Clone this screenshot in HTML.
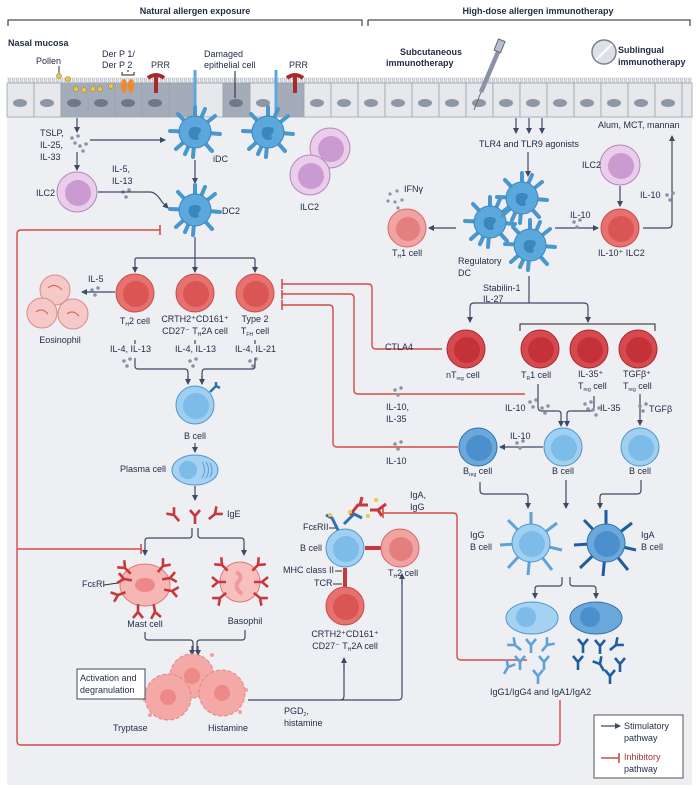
<!DOCTYPE html>
<html><head><meta charset="utf-8"><style>
html,body{margin:0;padding:0;background:#fff}
svg{display:block}
text{font-family:"Liberation Sans",sans-serif;font-size:9px;fill:#1f2a44}
.b{font-weight:bold}
.c{text-anchor:middle}
.s{stroke:#3d4a63;stroke-width:1.2;fill:none}
.r{stroke:#d24b4b;stroke-width:1.4;fill:none}
.sub{font-size:5px}
</style></head><body>
<svg width="700" height="790" viewBox="0 0 700 790" xmlns="http://www.w3.org/2000/svg">
<defs>
<marker id="a" markerWidth="6" markerHeight="6" refX="5" refY="3" orient="auto" markerUnits="userSpaceOnUse"><path d="M0,0 L6,3 L0,6 z" fill="#3d4a63"/></marker>
<pattern id="mv" width="4" height="5" patternUnits="userSpaceOnUse"><path d="M0.5,5 V1.5 a1,1 0 0 1 2,0 V5" fill="#e6e8eb" stroke="#9aa3ad" stroke-width="0.5"/></pattern>
<g id="dc">
 <g stroke="#4a97cf" stroke-width="4" stroke-linecap="round">
 <line x1="0" y1="0" x2="0" y2="-25"/><line x1="0" y1="0" x2="20" y2="-16"/><line x1="0" y1="0" x2="25" y2="2"/><line x1="0" y1="0" x2="17" y2="19"/><line x1="0" y1="0" x2="-2" y2="25"/><line x1="0" y1="0" x2="-19" y2="17"/><line x1="0" y1="0" x2="-25" y2="-1"/><line x1="0" y1="0" x2="-17" y2="-18"/>
 <line x1="0" y1="0" x2="10" y2="-23"/><line x1="0" y1="0" x2="-10" y2="22"/></g>
 <circle r="16" fill="#5aa8dc" stroke="#3b86bd"/>
 <path d="M-6,4 q-2,-9 6,-9 q8,0 5,6 q-3,2 -1,6 q-6,3 -10,-3z" fill="#3b86bd"/>
</g>
<g id="rc"><circle r="19" fill="#e6716e" stroke="#c94a4a"/><circle cx="1" cy="1" r="13" fill="#d95654"/></g>
<g id="rp"><circle r="19" fill="#f0a3a3" stroke="#d66"/><circle cx="1" cy="1" r="12" fill="#e47f7f"/></g>
<g id="tr"><circle r="19" fill="#d64a4f" stroke="#a8262d"/><circle cx="1" cy="1" r="13" fill="#c53138"/></g>
<g id="bc"><circle r="19" fill="#9fd0f2" stroke="#4f95cc"/><circle cx="1" cy="1" r="13" fill="#7dbbe8"/></g>
<g id="bd"><circle r="19" fill="#6aa8db" stroke="#2f72b0"/><circle cx="1" cy="1" r="13" fill="#4b8fcc"/></g>
<g id="pu"><circle r="20" fill="#e9cdea" stroke="#b287bb"/><circle cx="1" cy="1" r="13" fill="#c99bd0"/></g>
<g id="y"><path d="M0,8 V0 L-5,-6 M0,0 L5,-6" stroke="#c7383c" stroke-width="2.6" fill="none"/></g>
<g id="yb"><path d="M0,8 V0 L-5,-6 M0,0 L5,-6" stroke="#5ea2d8" stroke-width="2.6" fill="none"/></g>
<g id="yd"><path d="M0,8 V0 L-5,-6 M0,0 L5,-6" stroke="#1f5d9e" stroke-width="2.6" fill="none"/></g>
<g id="dots" fill="#8a93a6"><circle cx="0" cy="0" r="1.8"/><circle cx="6" cy="-2" r="1.8"/><circle cx="3" cy="5" r="1.8"/></g>
</defs>

<rect x="7" y="77" width="685" height="708" fill="#eeeff3"/>
<text x="195" y="14" class="b c">Natural allergen exposure</text>
<path d="M8,26 V20 H362 V26" stroke="#222" fill="none"/>
<text x="538" y="14" class="b c">High-dose allergen immunotherapy</text>
<path d="M368,26 V20 H690 V26" stroke="#222" fill="none"/>
<text x="8" y="46" class="b">Nasal mucosa</text>

<rect x="7" y="78" width="685" height="6" fill="url(#mv)"/>
<g stroke="#9aa3ad" stroke-width="0.8">
<rect x="7" y="83" width="27" height="34" fill="#e6e8eb"/><rect x="34" y="83" width="27" height="34" fill="#e6e8eb"/>
<rect x="61" y="83" width="27" height="34" fill="#a4acb9"/><rect x="88" y="83" width="27" height="34" fill="#a4acb9"/>
<rect x="115" y="83" width="27" height="34" fill="#a4acb9"/><rect x="142" y="83" width="27" height="34" fill="#a4acb9"/>
<rect x="169" y="83" width="27" height="34" fill="#a4acb9"/><rect x="196" y="83" width="27" height="34" fill="#e6e8eb"/>
<rect x="223" y="83" width="27" height="34" fill="#a4acb9"/><rect x="250" y="83" width="27" height="34" fill="#e6e8eb"/>
<rect x="277" y="83" width="27" height="34" fill="#a4acb9"/><rect x="304" y="83" width="27" height="34" fill="#e6e8eb"/>
<rect x="331" y="83" width="27" height="34" fill="#e6e8eb"/><rect x="358" y="83" width="27" height="34" fill="#e6e8eb"/>
<rect x="385" y="83" width="27" height="34" fill="#e6e8eb"/><rect x="412" y="83" width="27" height="34" fill="#e6e8eb"/>
<rect x="439" y="83" width="27" height="34" fill="#e6e8eb"/><rect x="466" y="83" width="27" height="34" fill="#e6e8eb"/>
<rect x="493" y="83" width="27" height="34" fill="#e6e8eb"/><rect x="520" y="83" width="27" height="34" fill="#e6e8eb"/>
<rect x="547" y="83" width="27" height="34" fill="#e6e8eb"/><rect x="574" y="83" width="27" height="34" fill="#e6e8eb"/>
<rect x="601" y="83" width="27" height="34" fill="#e6e8eb"/><rect x="628" y="83" width="27" height="34" fill="#e6e8eb"/>
<rect x="655" y="83" width="27" height="34" fill="#e6e8eb"/><rect x="682" y="83" width="10" height="34" fill="#e6e8eb"/>
</g>
<g fill="#8e97a5">
<ellipse cx="20" cy="103" rx="7" ry="4"/><ellipse cx="47" cy="103" rx="7" ry="4"/><ellipse cx="74" cy="103" rx="7" ry="4" fill="#6e7888"/><ellipse cx="101" cy="103" rx="7" ry="4" fill="#6e7888"/><ellipse cx="128" cy="103" rx="7" ry="4" fill="#6e7888"/><ellipse cx="155" cy="103" rx="7" ry="4" fill="#6e7888"/><ellipse cx="236" cy="103" rx="7" ry="4" fill="#6e7888"/><ellipse cx="263" cy="103" rx="7" ry="4"/><ellipse cx="317" cy="103" rx="7" ry="4"/><ellipse cx="344" cy="103" rx="7" ry="4"/><ellipse cx="371" cy="103" rx="7" ry="4"/><ellipse cx="398" cy="103" rx="7" ry="4"/><ellipse cx="425" cy="103" rx="7" ry="4"/><ellipse cx="452" cy="103" rx="7" ry="4"/><ellipse cx="479" cy="103" rx="7" ry="4"/><ellipse cx="506" cy="103" rx="7" ry="4"/><ellipse cx="533" cy="103" rx="7" ry="4"/><ellipse cx="560" cy="103" rx="7" ry="4"/><ellipse cx="587" cy="103" rx="7" ry="4"/><ellipse cx="614" cy="103" rx="7" ry="4"/><ellipse cx="641" cy="103" rx="7" ry="4"/><ellipse cx="668" cy="103" rx="7" ry="4"/>
</g>
<text x="36" y="64">Pollen</text>
<line x1="59" y1="66" x2="59" y2="74" stroke="#333"/>
<g fill="#e8c84a" stroke="#a8892a" stroke-width="0.6"><circle cx="59" cy="76" r="2.5"/><circle cx="68" cy="79" r="2.5"/><circle cx="76" cy="89" r="2.5"/><circle cx="84" cy="90" r="2.5"/><circle cx="93" cy="89" r="2.5"/><circle cx="100" cy="89" r="2.5"/><circle cx="111" cy="86" r="2.5"/></g>
<text x="102" y="57">Der P 1/</text><text x="102" y="68">Der P 2</text>
<path d="M122,72 V75 H134 V72 M128,70 V72" stroke="#222" fill="none"/>
<ellipse cx="124" cy="86" rx="3" ry="7" fill="#f08a2a"/><ellipse cx="131" cy="86" rx="3" ry="7" fill="#f08a2a"/>
<text x="151" y="68">PRR</text><text x="289" y="68">PRR</text>
<path d="M148,78 q8,-6 16,0 M156,76 V93" stroke="#a82a2a" stroke-width="4" fill="none"/>
<path d="M287,78 q8,-6 16,0 M295,76 V93" stroke="#a82a2a" stroke-width="4" fill="none"/>
<text x="204" y="57">Damaged</text><text x="204" y="68">epithelial cell</text>
<line x1="235" y1="71" x2="235" y2="98" stroke="#222"/>
<line x1="195" y1="70" x2="195" y2="115" stroke="#5aa8dc" stroke-width="3"/>
<line x1="276" y1="70" x2="276" y2="115" stroke="#5aa8dc" stroke-width="3"/>
<use href="#dc" x="195" y="132"/><use href="#dc" x="268" y="132"/>
<text x="213" y="162">iDC</text>
<use href="#pu" x="330" y="148"/><use href="#pu" x="310" y="175"/>
<text x="300" y="210">ILC2</text>
<text x="40" y="136">TSLP,</text><text x="40" y="148">IL-25,</text><text x="40" y="160">IL-33</text>
<use href="#dots" x="72" y="138"/><use href="#dots" x="80" y="146"/>
<line x1="77" y1="118" x2="77" y2="132" class="s" marker-end="url(#a)"/>
<line x1="90" y1="140" x2="165" y2="140" class="s" marker-end="url(#a)"/>
<line x1="77" y1="152" x2="77" y2="170" class="s" marker-end="url(#a)"/>
<use href="#pu" x="77" y="192"/>
<text x="36" y="196">ILC2</text>
<text x="112" y="172">IL-5,</text><text x="112" y="184">IL-13</text>
<use href="#dots" x="123" y="192"/>
<path d="M98,192 H150 q6,0 12,10 L168,208" class="s" marker-end="url(#a)"/>
<line x1="195" y1="160" x2="195" y2="183" class="s" marker-end="url(#a)"/>
<use href="#dc" x="195" y="210"/>
<text x="222" y="214">DC2</text>
<path d="M195,237 V258 M135,270 V260 q0,-2 2,-2 H253 q2,0 2,2 V270 M195,258 V270" class="s"/>
<line x1="135" y1="266" x2="135" y2="272" class="s" marker-end="url(#a)"/>
<line x1="195" y1="266" x2="195" y2="272" class="s" marker-end="url(#a)"/>
<line x1="255" y1="266" x2="255" y2="272" class="s" marker-end="url(#a)"/>
<use href="#rc" x="135" y="293"/><use href="#rc" x="195" y="293"/><use href="#rc" x="255" y="293"/>
<text x="135" y="324" class="c">T<tspan class="sub" dy="2">H</tspan><tspan dy="-2">2 cell</tspan></text>
<text x="195" y="322" class="c">CRTH2⁺CD161⁺</text><text x="195" y="334" class="c">CD27⁻ T<tspan class="sub" dy="2">H</tspan><tspan dy="-2">2A cell</tspan></text>
<text x="255" y="322" class="c">Type 2</text><text x="255" y="334" class="c">T<tspan class="sub" dy="2">FH</tspan><tspan dy="-2"> cell</tspan></text>
<text x="110" y="352">IL-4, IL-13</text><text x="175" y="352">IL-4, IL-13</text><text x="235" y="352">IL-4, IL-21</text>
<use href="#dots" x="124" y="361"/><use href="#dots" x="190" y="361"/><use href="#dots" x="250" y="361"/>
<path d="M135,340 V344 M195,340 V344 M255,340 V344" class="s"/>
<path d="M135,358 V366 q0,3 3,3 H185 q3,0 3,4 V380 M255,358 V366 q0,3 -3,3 H205 q-3,0 -3,4 V380" class="s"/>
<line x1="188" y1="376" x2="188" y2="384" class="s" marker-end="url(#a)"/><line x1="202" y1="376" x2="202" y2="384" class="s" marker-end="url(#a)"/>
<path d="M115,292 H82" class="s" marker-end="url(#a)"/>
<text x="88" y="282">IL-5</text><use href="#dots" x="92" y="290"/>
<g fill="#f6c9c9" stroke="#d88"><circle cx="55" cy="290" r="15"/><circle cx="42" cy="313" r="15"/><circle cx="73" cy="314" r="15"/></g>
<g stroke="#c65" fill="none"><path d="M48,288 q7,-6 14,2"/><path d="M36,312 q6,-5 12,2"/><path d="M67,314 q6,-5 12,2"/></g>
<text x="60" y="343" class="c">Eosinophil</text>
<use href="#bc" x="195" y="405"/>
<path d="M210,392 l6,-6 M216,386 l4,2 M216,386 l0,-4" stroke="#2f72b0" stroke-width="2.5"/>
<text x="195" y="439" class="c">B cell</text>
<line x1="195" y1="443" x2="195" y2="452" class="s" marker-end="url(#a)"/>
<text x="120" y="472">Plasma cell</text>
<ellipse cx="195" cy="470" rx="23" ry="15" fill="#a5d2f2" stroke="#4f95cc"/><circle cx="188" cy="470" r="9" fill="#7dbbe8"/>
<path d="M202,462 q5,8 0,16 M206,462 q5,8 0,16 M210,463 q4,7 0,14" stroke="#5b9fd4" fill="none"/>
<line x1="195" y1="486" x2="195" y2="500" class="s" marker-end="url(#a)"/>
<use href="#y" x="174" y="515" transform="rotate(-40 174 515)"/><use href="#y" x="195" y="516"/><use href="#y" x="215" y="514" transform="rotate(50 215 514)"/>
<text x="227" y="517">IgE</text>
<path d="M192,528 V535 q0,3 -3,3 H148 q-3,0 -3,3 V552 M198,528 V535 q0,3 3,3 H241 q3,0 3,3 V552" class="s"/>
<line x1="145" y1="548" x2="145" y2="555" class="s" marker-end="url(#a)"/><line x1="244" y1="548" x2="244" y2="555" class="s" marker-end="url(#a)"/>
<ellipse cx="145" cy="585" rx="25" ry="21" fill="#f6b6b4" stroke="#d77"/>
<ellipse cx="145" cy="585" rx="10" ry="7" fill="#e88"/>
<g><use href="#y" x="125" y="568" transform="rotate(-45 125 568)"/><use href="#y" x="163" y="566" transform="rotate(40 163 566)"/><use href="#y" x="118" y="595" transform="rotate(-110 118 595)"/><use href="#y" x="172" y="591" transform="rotate(100 172 591)"/><use href="#y" x="138" y="612" transform="rotate(180 138 612)"/><use href="#y" x="155" y="612" transform="rotate(170 155 612)"/><use href="#y" x="170" y="578" transform="rotate(80 170 578)"/><use href="#y" x="124" y="579" transform="rotate(-80 124 579)"/></g>
<text x="82" y="587">FcεRI</text><line x1="104" y1="585" x2="118" y2="583" stroke="#333"/>
<text x="145" y="627" class="c">Mast cell</text>
<circle cx="240" cy="582" r="20" fill="#f7c0be" stroke="#d77"/>
<path d="M236,572 q8,4 2,10 q-4,6 4,12" stroke="#e99" stroke-width="4" fill="none"/>
<use href="#y" x="222" y="565" transform="rotate(-45 222 565)"/><use href="#y" x="258" y="565" transform="rotate(45 258 565)"/><use href="#y" x="220" y="598" transform="rotate(-130 220 598)"/><use href="#y" x="260" y="598" transform="rotate(130 260 598)"/><use href="#y" x="218" y="582" transform="rotate(-90 218 582)"/><use href="#y" x="262" y="582" transform="rotate(90 262 582)"/>
<text x="245" y="624" class="c">Basophil</text>
<path d="M145,632 V637 q0,3 3,3 H190 q3,0 3,3 V650 M245,630 V637 q0,3 -3,3 H200 q-3,0 -3,3 V650" class="s"/>
<line x1="192" y1="646" x2="192" y2="655" class="s" marker-end="url(#a)"/><line x1="198" y1="646" x2="198" y2="655" class="s" marker-end="url(#a)"/>
<g fill="#f5a9a7" stroke="#e48585" stroke-dasharray="4 2"><circle cx="192" cy="676" r="22"/><circle cx="168" cy="697" r="23"/><circle cx="222" cy="693" r="23"/></g>
<g fill="#ec8a89"><circle cx="192" cy="676" r="8"/><circle cx="168" cy="697" r="8"/><circle cx="222" cy="693" r="8"/></g>
<g fill="#f0a0a0"><circle cx="145" cy="700" r="2"/><circle cx="150" cy="715" r="2"/><circle cx="212" cy="655" r="2"/><circle cx="246" cy="690" r="2"/><circle cx="240" cy="712" r="2"/></g>
<rect x="77" y="669" width="68" height="30" fill="#fff" stroke="#3d4a63"/>
<text x="80" y="681">Activation and</text><text x="80" y="693">degranulation</text>
<text x="113" y="731">Tryptase</text><text x="208" y="731">Histamine</text>
<path d="M248,700 H340 q4,0 4,-4 V665 M270,700 H398 q4,0 4,-4 V580" class="s"/>
<line x1="344" y1="668" x2="344" y2="658" class="s" marker-end="url(#a)"/><line x1="402" y1="584" x2="402" y2="574" class="s" marker-end="url(#a)"/>
<text x="284" y="714">PGD<tspan class="sub" dy="2">2</tspan><tspan dy="-2">,</tspan></text><text x="284" y="726">histamine</text>
<use href="#bc" x="345" y="548"/>
<text x="300" y="551">B cell</text>
<text x="303" y="530">FcεRII</text><line x1="329" y1="528" x2="337" y2="528" stroke="#333"/>
<path d="M338,530 l-6,-12 l-6,-3 M344,524 l10,-10 l8,4" stroke="#2f72b0" stroke-width="3" fill="none"/>
<path d="M350,515 l8,-10 l10,0 M360,505 l2,-8 M370,510 l8,0 l8,-6 M378,510 l4,6" stroke="#c7383c" stroke-width="3" fill="none"/>
<g fill="#e8c84a"><circle cx="330" cy="515" r="2"/><circle cx="350" cy="512" r="2"/><circle cx="368" cy="516" r="2"/><circle cx="376" cy="500" r="2"/></g>
<path d="M365,548 H385" stroke="#c7383c" stroke-width="4"/>
<use href="#rp" x="400" y="548"/>
<text x="388" y="576">T<tspan class="sub" dy="2">H</tspan><tspan dy="-2">2 cell</tspan></text>
<path d="M345,568 V588" stroke="#c7383c" stroke-width="4"/>
<text x="283" y="573">MHC class II</text><line x1="335" y1="571" x2="342" y2="571" stroke="#333"/>
<text x="314" y="586">TCR</text><line x1="333" y1="584" x2="342" y2="584" stroke="#333"/>
<use href="#rc" x="345" y="606"/>
<text x="345" y="637" class="c">CRTH2⁺CD161⁺</text><text x="345" y="649" class="c">CD27⁻ T<tspan class="sub" dy="2">H</tspan><tspan dy="-2">2A cell</tspan></text>
<text x="410" y="498">IgA,</text><text x="410" y="510">IgG</text>
<path d="M383,513 H453 q4,0 4,4 V656 q0,4 4,4 H527" class="r"/><line x1="383" y1="508" x2="383" y2="518" stroke="#d24b4b" stroke-width="1.6"/>
<path d="M160,230 H21 q-4,0 -4,4 V741 q0,4 4,4 H556 q4,0 4,-4 V700" class="r"/>
<line x1="160" y1="225" x2="160" y2="235" stroke="#d24b4b" stroke-width="1.6"/>
<path d="M17,549 H141" class="r"/><line x1="141" y1="544" x2="141" y2="554" stroke="#d24b4b" stroke-width="1.6"/>
<path d="M282,284 H368 q4,0 4,4 V345 q0,4 4,4 H442" class="r"/>
<path d="M282,294 H350 q4,0 4,4 V390 q0,4 4,4 H525" class="r"/>
<path d="M282,305 H329 q4,0 4,4 V443 q0,4 4,4 H458" class="r"/>
<g stroke="#d24b4b" stroke-width="1.6"><line x1="282" y1="279" x2="282" y2="289"/><line x1="282" y1="290" x2="282" y2="299"/><line x1="282" y1="300" x2="282" y2="310"/></g>
<text x="385" y="350">CTLA4</text>
<use href="#dots" x="395" y="390"/><text x="386" y="410">IL-10,</text><text x="386" y="422">IL-35</text>
<use href="#dots" x="395" y="444"/><text x="386" y="464">IL-10</text>
<text x="400" y="55" class="b">Subcutaneous</text><text x="386" y="66" class="b">immunotherapy</text>
<path d="M481,92 L498,52" stroke="#8a93a6" stroke-width="4.5"/><path d="M481,92 L474,110" stroke="#666"/>
<rect x="496" y="40" width="7" height="12" fill="#b8c0cc" stroke="#666" transform="rotate(22 500 46)"/>
<circle cx="604" cy="52" r="12" fill="#dde1e6" stroke="#7a8290" stroke-width="1.5"/><line x1="596" y1="60" x2="612" y2="44" stroke="#fff" stroke-width="2"/>
<text x="618" y="53" class="b">Sublingual</text><text x="618" y="65" class="b">immunotherapy</text>
<line x1="516" y1="118" x2="516" y2="133" class="s" marker-end="url(#a)"/><line x1="529" y1="118" x2="529" y2="133" class="s" marker-end="url(#a)"/><line x1="542" y1="118" x2="542" y2="133" class="s" marker-end="url(#a)"/>
<text x="479" y="147">TLR4 and TLR9 agonists</text>
<line x1="528" y1="152" x2="528" y2="176" class="s" marker-end="url(#a)"/>
<text x="598" y="128">Alum, MCT, mannan</text>
<path d="M643,228 H668 q4,0 4,-4 V136" class="s" marker-end="url(#a)"/>
<text x="640" y="198">IL-10</text><use href="#dots" x="667" y="195"/>
<use href="#pu" x="620" y="165"/><text x="582" y="168">ILC2</text>
<line x1="620" y1="186" x2="620" y2="206" class="s" marker-end="url(#a)"/>
<use href="#rc" x="620" y="228"/><text x="598" y="256">IL-10⁺ ILC2</text>
<use href="#dc" x="490" y="222"/><use href="#dc" x="522" y="198"/><use href="#dc" x="530" y="245"/>
<text x="458" y="264">Regulatory</text><text x="458" y="276">DC</text>
<line x1="555" y1="228" x2="598" y2="228" class="s" marker-end="url(#a)"/>
<text x="570" y="218">IL-10</text><use href="#dots" x="574" y="222"/>
<line x1="456" y1="228" x2="429" y2="228" class="s" marker-end="url(#a)"/>
<use href="#rp" x="407" y="228"/>
<text x="392" y="256">T<tspan class="sub" dy="2">H</tspan><tspan dy="-2">1 cell</tspan></text>
<text x="404" y="192">IFNγ</text><g fill="#8a93a6"><circle cx="390" cy="194" r="1.6"/><circle cx="397" cy="191" r="1.6"/><circle cx="388" cy="201" r="1.6"/><circle cx="395" cy="202" r="1.6"/><circle cx="402" cy="200" r="1.6"/><circle cx="398" cy="208" r="1.6"/></g>
<text x="483" y="291">Stabilin-1</text><text x="483" y="302">IL-27</text>
<path d="M529,276 V303 M470,320 V307 q0,-4 4,-4 H584 q4,0 4,4 V318" class="s"/>
<line x1="470" y1="318" x2="470" y2="322" class="s" marker-end="url(#a)"/><line x1="588" y1="316" x2="588" y2="322" class="s" marker-end="url(#a)"/>
<path d="M520,331 V324 H655 V331" stroke="#222" fill="none"/>
<use href="#tr" x="466" y="349"/><use href="#tr" x="540" y="349"/><use href="#tr" x="589" y="349"/><use href="#tr" x="638" y="349"/>
<text x="446" y="378">nT<tspan class="sub" dy="2">reg</tspan><tspan dy="-2"> cell</tspan></text>
<text x="521" y="378">T<tspan class="sub" dy="2">R</tspan><tspan dy="-2">1 cell</tspan></text>
<text x="578" y="377">IL-35⁺</text><text x="578" y="389">T<tspan class="sub" dy="2">reg</tspan><tspan dy="-2"> cell</tspan></text>
<text x="623" y="377">TGFβ⁺</text><text x="623" y="389">T<tspan class="sub" dy="2">reg</tspan><tspan dy="-2"> cell</tspan></text>
<path d="M538,384 V407 q0,4 4,4 H558 q3,0 3,3 V425 M594,396 V407 q0,4 -4,4 H570 q-3,0 -3,3 V425" class="s"/>
<line x1="561" y1="421" x2="561" y2="426" class="s" marker-end="url(#a)"/><line x1="567" y1="421" x2="567" y2="426" class="s" marker-end="url(#a)"/>
<line x1="640" y1="394" x2="640" y2="425" class="s" marker-end="url(#a)"/>
<text x="505" y="411">IL-10</text><use href="#dots" x="530" y="402"/><use href="#dots" x="542" y="408"/>
<text x="600" y="411">IL-35</text><use href="#dots" x="585" y="404"/><use href="#dots" x="593" y="410"/>
<text x="649" y="412">TGFβ</text><use href="#dots" x="640" y="406"/>
<use href="#bd" x="478" y="447"/><use href="#bc" x="563" y="447"/><use href="#bc" x="640" y="447"/>
<line x1="543" y1="447" x2="500" y2="447" class="s" marker-end="url(#a)"/>
<text x="510" y="439">IL-10</text><use href="#dots" x="517" y="443"/>
<text x="463" y="474">B<tspan class="sub" dy="2">reg</tspan><tspan dy="-2"> cell</tspan></text>
<text x="563" y="474" class="c">B cell</text><text x="640" y="474" class="c">B cell</text>
<path d="M480,482 V490 q0,4 4,4 H525 q3,0 3,3 V505 M566,480 V505 M641,480 V490 q0,4 -4,4 H603 q-3,0 -3,3 V505" class="s"/>
<line x1="528" y1="501" x2="528" y2="508" class="s" marker-end="url(#a)"/><line x1="566" y1="501" x2="566" y2="508" class="s" marker-end="url(#a)"/><line x1="600" y1="501" x2="600" y2="508" class="s" marker-end="url(#a)"/>
<g stroke="#5ea2d8" stroke-width="3" fill="none"><path d="M531,543 V512 M531,543 L557,523 M531,543 L562,550 M531,543 L552,570 M531,543 L528,575 M531,543 L508,568 M531,543 L500,545 M531,543 L508,520"/></g>
<use href="#bc" x="531" y="543"/>
<g stroke="#1f5d9e" stroke-width="3" fill="none"><path d="M606,543 V510 M606,543 L632,523 M606,543 L636,550 M606,543 L628,570 M606,543 L603,576 M606,543 L580,568 M606,543 L574,545 M606,543 L584,520"/></g>
<use href="#bd" x="606" y="543"/>
<text x="470" y="538">IgG</text><text x="470" y="550">B cell</text>
<text x="641" y="538">IgA</text><text x="641" y="550">B cell</text>
<path d="M562,577 V583 q0,3 -3,3 H538 q-3,0 -3,3 V595 M570,577 V583 q0,3 3,3 H593 q3,0 3,3 V595" class="s"/>
<line x1="535" y1="591" x2="535" y2="598" class="s" marker-end="url(#a)"/><line x1="596" y1="591" x2="596" y2="598" class="s" marker-end="url(#a)"/>
<ellipse cx="532" cy="618" rx="26" ry="16" fill="#a5d2f2" stroke="#4f95cc"/><circle cx="526" cy="617" r="10" fill="#7dbbe8"/>
<ellipse cx="596" cy="618" rx="26" ry="16" fill="#6aa8db" stroke="#2f72b0"/><circle cx="590" cy="617" r="10" fill="#4b8fcc"/>
<use href="#yb" x="515" y="645" transform="rotate(-50 515 645)"/><use href="#yb" x="531" y="645"/><use href="#yb" x="547" y="645" transform="rotate(40 547 645)"/><use href="#yb" x="520" y="662"/><use href="#yb" x="544" y="662"/><use href="#yb" x="508" y="667" transform="rotate(30 508 667)"/><use href="#yb" x="538" y="676"/>
<use href="#yd" x="583" y="645"/><use href="#yd" x="600" y="646"/><use href="#yd" x="616" y="645" transform="rotate(50 616 645)"/><use href="#yd" x="578" y="662"/><use href="#yd" x="600" y="664" transform="rotate(-30 600 664)"/><use href="#yd" x="620" y="664"/><use href="#yd" x="610" y="676"/>
<text x="490" y="695">IgG1/IgG4 and IgA1/IgA2</text>
<rect x="594" y="715" width="89" height="63" fill="#fff" stroke="#555"/>
<line x1="601" y1="726" x2="620" y2="726" class="s" marker-end="url(#a)"/>
<text x="624" y="729">Stimulatory</text><text x="624" y="741">pathway</text>
<path d="M601,758 H619" class="r"/><line x1="619" y1="753" x2="619" y2="763" stroke="#d24b4b" stroke-width="1.6"/>
<text x="624" y="760" style="fill:#a33">Inhibitory</text><text x="624" y="772">pathway</text>
</svg>
</body></html>
